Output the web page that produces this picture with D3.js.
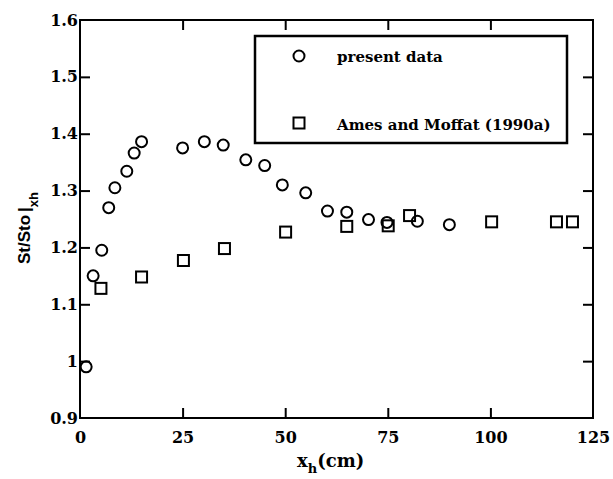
<!DOCTYPE html>
<html>
<head>
<meta charset="utf-8">
<script src="https://cdn.jsdelivr.net/npm/d3@7"></script>
<style>
  body { margin: 0; background: #fff; }
  .tick text { font-family: "DejaVu Serif", serif; font-weight: bold; font-size: 16px; fill: #000; }
  .domain { display: none; }
  .tick line { stroke: #000; stroke-width: 2; }
</style>
</head>
<body>
<svg id="viz"></svg>
<script>
// values
var presentX = [1.5, 3.2, 5.3, 7.0, 8.5, 11.4, 13.2, 15.0, 25.0, 30.3, 34.9, 40.4, 45.0, 49.3, 55.0, 60.3, 65.0, 70.3, 74.8, 82.2, 90.0];
var presentY = [0.99, 1.15, 1.195, 1.27, 1.305, 1.334, 1.366, 1.386, 1.375, 1.386, 1.38, 1.354, 1.344, 1.31, 1.296, 1.264, 1.262, 1.249, 1.244, 1.246, 1.24];
var amesX = [5.1, 15.0, 25.2, 35.2, 50.1, 65.0, 75.1, 80.3, 100.3, 116.1, 120.0];
var amesY = [1.128, 1.148, 1.177, 1.198, 1.227, 1.237, 1.238, 1.256, 1.245, 1.245, 1.245];

var xTicks = [0, 25, 50, 75, 100, 125];
var yTicks = [0.9, 1.0, 1.1, 1.2, 1.3, 1.4, 1.5, 1.6];
var legendLabels = ["present data", "Ames and Moffat (1990a)"];

var width = 613;
var height = 479;
var margin = {top: 20, right: 20, bottom: 61, left: 80};

var svg = d3.select("#viz")
	.attr("width", width)
	.attr("height", height)
	.style("display", "block");

var x = d3.scaleLinear().domain([0, 125]).range([margin.left, width - margin.right]);
var y = d3.scaleLinear().domain([0.9, 1.6]).range([height - margin.bottom, margin.top]);

var yFmt = d => d === 1 ? "1" : d3.format(".1f")(d);

// axes, ticks pointing inward
svg.append("g")
	.attr("transform", `translate(0,${y(0.9)})`)
	.call(d3.axisBottom(x).tickValues(xTicks).tickSize(-10).tickPadding(14))
	.selectAll(".tick line").filter(d => d === 0 || d === 125).remove();

svg.append("g")
	.attr("transform", `translate(0,${y(1.6)})`)
	.call(d3.axisTop(x).tickValues(xTicks.slice(1, -1)).tickSize(-10).tickFormat(""));

svg.append("g")
	.attr("transform", `translate(${x(0)},0)`)
	.call(d3.axisLeft(y).tickValues(yTicks).tickSize(-10).tickPadding(2).tickFormat(yFmt))
	.selectAll(".tick line").filter(d => d === 0.9 || d === 1.6).remove();

svg.append("g")
	.attr("transform", `translate(${x(125)},0)`)
	.call(d3.axisRight(y).tickValues(yTicks.slice(1, -1)).tickSize(-10).tickFormat(""));

// frame
svg.append("rect")
	.attr("x", x(0)).attr("y", y(1.6))
	.attr("width", x(125) - x(0)).attr("height", y(0.9) - y(1.6))
	.attr("fill", "none").attr("stroke", "#000").attr("stroke-width", 2);

// markers
var present = presentX.map((v, i) => ({x: v, y: presentY[i]}));
var ames = amesX.map((v, i) => ({x: v, y: amesY[i]}));

svg.selectAll(".present")
	.data(present)
	.join("circle")
	.attr("class", "present")
	.attr("cx", d => x(d.x))
	.attr("cy", d => y(d.y))
	.attr("r", 5.5)
	.attr("fill", "none")
	.attr("stroke", "#000")
	.attr("stroke-width", 2);

svg.selectAll(".ames")
	.data(ames)
	.join("rect")
	.attr("class", "ames")
	.attr("x", d => x(d.x) - 5.5)
	.attr("y", d => y(d.y) - 5.5)
	.attr("width", 11)
	.attr("height", 11)
	.attr("fill", "none")
	.attr("stroke", "#000")
	.attr("stroke-width", 2);

// legend
var lg = svg.append("g");
lg.append("rect")
	.attr("x", 255).attr("y", 36).attr("width", 312).attr("height", 107)
	.attr("fill", "none").attr("stroke", "#000").attr("stroke-width", 2.5);
lg.append("circle")
	.attr("cx", 299).attr("cy", 56).attr("r", 5.5)
	.attr("fill", "none").attr("stroke", "#000").attr("stroke-width", 2);
lg.append("rect")
	.attr("x", 299 - 5.5).attr("y", 123 - 5.5).attr("width", 11).attr("height", 11)
	.attr("fill", "none").attr("stroke", "#000").attr("stroke-width", 2);
lg.selectAll(".lgtext")
	.data(legendLabels)
	.join("text")
	.attr("class", "lgtext")
	.attr("x", 337)
	.attr("y", (d, i) => i === 0 ? 62 : 130)
	.style("font-family", "DejaVu Serif, serif")
	.style("font-weight", "bold")
	.style("font-size", "15px")
	.text(d => d);

// x axis title
var xt = svg.append("text")
	.attr("x", 297).attr("y", 467)
	.style("font-family", "DejaVu Serif, serif")
	.style("font-weight", "bold")
	.style("font-size", "18px");
xt.append("tspan").text("x");
xt.append("tspan").attr("dy", 6).style("font-size", "13px").text("h");
xt.append("tspan").attr("dy", -6).text("(cm)");

// y axis title
var yt = svg.append("text")
	.attr("transform", "translate(30,264) rotate(-90)")
	.style("font-family", "Liberation Sans, Arial, sans-serif")
	.style("font-weight", "bold")
	.style("font-size", "17px");
yt.append("tspan").text("St/Sto");
yt.append("tspan").attr("dx", 3).text("|");
yt.append("tspan").attr("dy", 8).style("font-size", "13px").text("xh");
</script>
</body>
</html>
